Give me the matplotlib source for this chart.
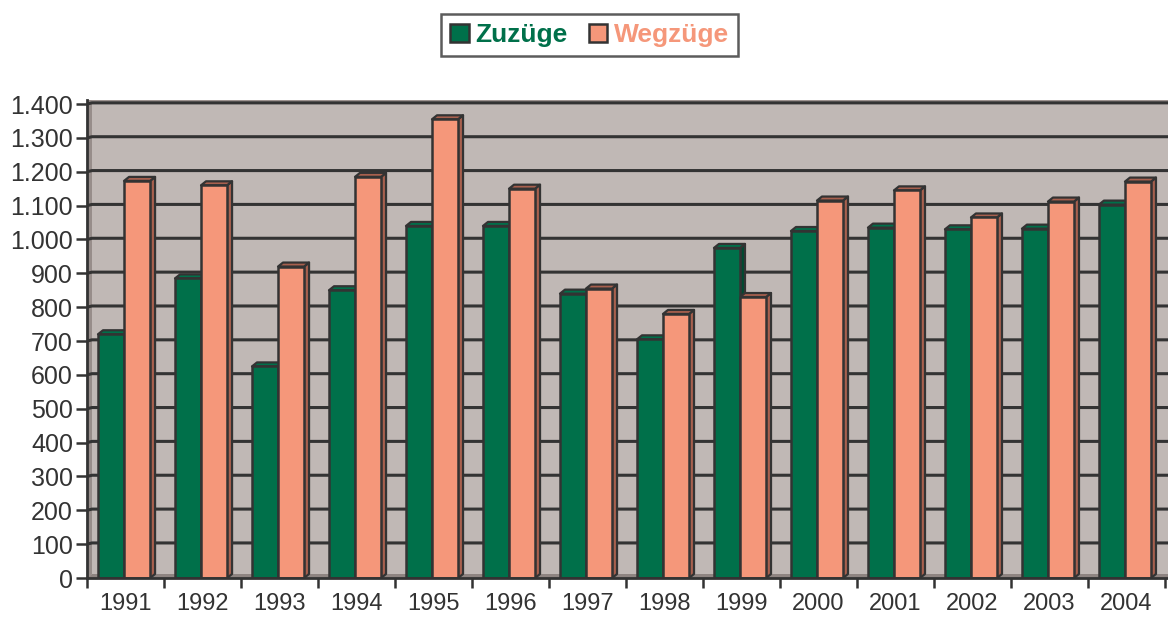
import matplotlib
matplotlib.use("Agg")
import matplotlib.pyplot as plt
from matplotlib.patches import Polygon, Patch
from matplotlib.ticker import FuncFormatter, FixedLocator

years = ["1991", "1992", "1993", "1994", "1995", "1996", "1997",
         "1998", "1999", "2000", "2001", "2002", "2003", "2004"]
zuzuege = [720, 885, 625, 850, 1040, 1040, 840, 705, 975, 1025, 1035, 1030, 1032, 1103]
wegzuege = [1173, 1160, 920, 1185, 1355, 1150, 855, 780, 830, 1115, 1145, 1065, 1112, 1171]
yticks = list(range(0, 1401, 100))

GREEN = "#00704A"
GREEN_SIDE = "#004A31"
ORANGE = "#F5977A"
ORANGE_SIDE = "#A8604E"
EDGE = "#333333"
WALL = "#C0B8B5"
SIDEWALL = "#978D8A"
FLOOR = "#8E8481"

plt.rcParams['font.family'] = ['Liberation Sans', 'DejaVu Sans']

fig = plt.figure(figsize=(11.68, 6.17), dpi=100)
ax = fig.add_axes([87 / 1168, 1 - 578 / 617, 1081 / 1168, 478 / 617])
ax.set_xlim(-0.5, 13.54)
ax.set_ylim(0, 1412)
ax.set_facecolor(WALL)

dx = 5 / 77.0      # depth in data x
dy = 4 / 0.3386    # depth in data y
xr = 13.54

# left side wall and floor
ax.add_patch(Polygon([(-0.5, 0), (-0.5 + dx, dy), (-0.5 + dx, 1412), (-0.5, 1412)],
                     closed=True, facecolor=SIDEWALL, edgecolor='none', zorder=0.5))
ax.add_patch(Polygon([(-0.5, 0), (xr, 0), (xr, dy), (-0.5 + dx, dy)],
                     closed=True, facecolor=FLOOR, edgecolor='none', zorder=0.5))
# top edge of wall
ax.plot([-0.5 + dx, xr], [1410, 1410], color="#9A908D", lw=2, zorder=0.6)

# gridlines on back wall (with small slant on side wall)
for v in yticks[1:]:
    ax.plot([-0.5, -0.5 + dx, xr], [v, v + dy * 0.3, v + dy * 0.3], color="#333333", lw=2.2,
            zorder=1, solid_capstyle='butt')

w = 0.338
offs = [-0.188, 0.150]


def bar3d(xc, h, face, side):
    x0, x1 = xc - w / 2, xc + w / 2
    ax.add_patch(Polygon([(x1, 0), (x1 + dx, dy), (x1 + dx, h + dy), (x1, h)], closed=True,
                         facecolor=side, edgecolor=EDGE, lw=1.6, zorder=2, joinstyle='round'))
    ax.add_patch(Polygon([(x0, h), (x1, h), (x1 + dx, h + dy), (x0 + dx, h + dy)], closed=True,
                         facecolor=side if face == ORANGE else face, edgecolor=EDGE, lw=1.6,
                         zorder=2, joinstyle='round'))
    ax.add_patch(Polygon([(x0, 0), (x1, 0), (x1, h), (x0, h)], closed=True,
                         facecolor=face, edgecolor=EDGE, lw=1.8, zorder=3, joinstyle='round'))


for i in range(len(years)):
    bar3d(i + offs[0], zuzuege[i], GREEN, GREEN_SIDE)
    bar3d(i + offs[1], wegzuege[i], ORANGE, ORANGE_SIDE)

for s in ['top', 'right']:
    ax.spines[s].set_visible(False)
ax.spines['left'].set_bounds(0, 1412)
for s in ['left', 'bottom']:
    ax.spines[s].set_color(EDGE)
    ax.spines[s].set_linewidth(2)
    ax.spines[s].set_zorder(4)

ax.set_yticks(yticks)
ax.yaxis.set_major_formatter(FuncFormatter(lambda v, p: f"{int(v):,}".replace(",", ".")))
ax.tick_params(axis='y', length=8, width=1.8, color=EDGE, labelsize=18, labelcolor="#333333", pad=2)

ax.xaxis.set_major_locator(FixedLocator([i - 0.5 for i in range(len(years) + 1)]))
ax.xaxis.set_minor_locator(FixedLocator(list(range(len(years)))))
ax.set_xticklabels([""] * (len(years) + 1))
ax.set_xticklabels(years, minor=True)
ax.tick_params(axis='x', which='major', length=7, width=1.8, color=EDGE)
ax.tick_params(axis='x', which='minor', length=0, labelsize=17, labelcolor="#333333", pad=11)

handles = [Patch(facecolor=GREEN, edgecolor=EDGE, lw=1.8),
           Patch(facecolor=ORANGE, edgecolor=EDGE, lw=1.8)]
leg = fig.legend(handles, ["Zuzüge", "Wegzüge"], loc='center', bbox_to_anchor=(589.5 / 1168, 1 - 35 / 617),
                 ncol=2, frameon=True, fancybox=False, prop={'weight': 'bold', 'size': 19},
                 labelcolor=[GREEN, ORANGE], handlelength=0.7, handleheight=0.7,
                 handletextpad=0.25, columnspacing=0.8, borderpad=0.35, borderaxespad=0)
leg.get_frame().set_edgecolor(EDGE)
leg.get_frame().set_linewidth(1.8)

fig.savefig("out.png", dpi=100)
